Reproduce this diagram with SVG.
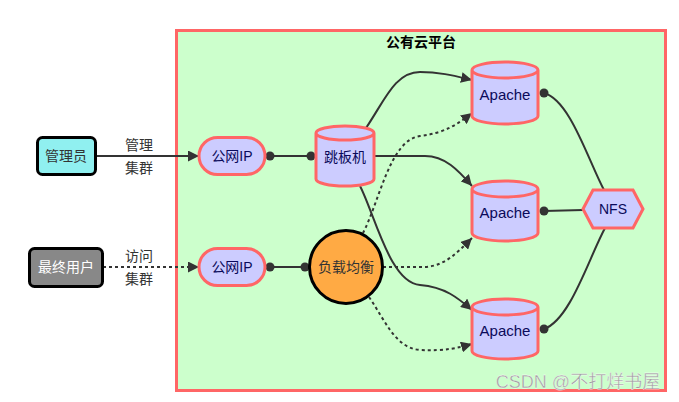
<svg xmlns="http://www.w3.org/2000/svg" width="679" height="402" viewBox="0 0 679 402">
<style>
text{font-family:"Liberation Sans","Noto Sans CJK SC",sans-serif;font-size:14px;text-anchor:middle;dominant-baseline:central}
.cyl,.pill,.hex{fill:#ccccff;stroke:#ff6666;stroke-width:3}
.nt{fill:#0a0a5a}
.e{fill:none;stroke:#333;stroke-width:2}
.d{stroke-dasharray:3 3}
.dot{fill:#333}
</style>
<defs>
<marker id="ar" viewBox="0 0 10 10" refX="10" refY="5" markerWidth="11" markerHeight="11" markerUnits="userSpaceOnUse" orient="auto">
<path d="M0,0 L10,5 L0,10 z" fill="#333"/>
</marker>
</defs>
<g id="cluster">
<rect x="176.5" y="30.5" width="489" height="360" fill="#ccffcc" stroke="#ff6666" stroke-width="3"/>
<text x="421" y="42" style="font-weight:bold">公有云平台</text>
</g>
<g id="connectors">
<path class="e" d="M96,156 L199,156" marker-end="url(#ar)"/>
<path class="e d" d="M103,267 L199,267" marker-end="url(#ar)"/>
<text x="139" y="145" fill="#333">管理</text>
<text x="139" y="168" fill="#333">集群</text>
<text x="139" y="256" fill="#333">访问</text>
<text x="139" y="279" fill="#333">集群</text>
<path class="e" d="M270,156 L311,156"/>
<circle class="dot" cx="270" cy="156" r="4.5"/>
<circle class="dot" cx="311" cy="156" r="4.5"/>
<path class="e" d="M270,267 L305,267"/>
<circle class="dot" cx="270" cy="267" r="4.5"/>
<circle class="dot" cx="305" cy="267" r="4.5"/>
<path class="e" d="M366,128 C385,100 395,72 420,72 C440,72 455,76 472,80" marker-end="url(#ar)"/>
<path class="e" d="M374,156 L425,156 C445,156 458,170 472,186" marker-end="url(#ar)"/>
<path class="e" d="M360,186 C375,215 390,283 420,285 C445,287 458,298 472,310" marker-end="url(#ar)"/>
<path class="e d" d="M363,233 C380,200 390,140 420,136 C445,133 458,124 472,113" marker-end="url(#ar)"/>
<path class="e d" d="M383,267 L425,267 C445,266 458,252 472,238" marker-end="url(#ar)"/>
<path class="e d" d="M369,297 C385,320 395,348 420,350 C445,351 458,348 472,344" marker-end="url(#ar)"/>
<path class="e" d="M544,93 C570,100 588,160 604,190"/>
<path class="e" d="M544,211 L583,210"/>
<path class="e" d="M544,329 C570,320 588,260 605,228"/>
<circle class="dot" cx="544" cy="93" r="4.5"/>
<circle class="dot" cx="544" cy="211" r="4.5"/>
<circle class="dot" cx="544" cy="329" r="4.5"/>
</g>
<g id="admin">
<rect x="37.5" y="137.5" width="58" height="37" rx="5" fill="#90f0f0" stroke="#000" stroke-width="3"/>
<text x="66" y="156" fill="#333">管理员</text>
</g>
<g id="user">
<rect x="29.5" y="248.5" width="73" height="38" rx="5" fill="#888888" stroke="#000" stroke-width="3"/>
<text x="66" y="267" fill="#fff">最终用户</text>
</g>
<g id="ip1">
<rect class="pill" x="199" y="137.5" width="66" height="37" rx="18.5"/>
<text class="nt" x="232" y="156">公网IP</text>
</g>
<g id="ip2">
<rect class="pill" x="199" y="248.5" width="66" height="37" rx="18.5"/>
<text class="nt" x="232" y="267">公网IP</text>
</g>
<g id="jump">
<path class="cyl" d="M316,133 a29,7 0 0 0 58,0 a29,7 0 0 0 -58,0 l0,46 a29,7 0 0 0 58,0 l0,-46"/>
<text class="nt" x="345" y="157">跳板机</text>
</g>
<g id="lb">
<circle cx="346" cy="267" r="36.5" fill="#ffaa44" stroke="#000" stroke-width="3"/>
<text x="346" y="267" fill="#333">负载均衡</text>
</g>
<g id="apache1">
<path class="cyl" d="M472,70 a33,8 0 0 0 66,0 a33,8 0 0 0 -66,0 l0,46 a33,8 0 0 0 66,0 l0,-46"/>
<text class="nt" x="505" y="94" style="font-size:15px">Apache</text>
</g>
<g id="apache2">
<path class="cyl" d="M472,189 a33,8 0 0 0 66,0 a33,8 0 0 0 -66,0 l0,44 a33,8 0 0 0 66,0 l0,-44"/>
<text class="nt" x="505" y="212" style="font-size:15px">Apache</text>
</g>
<g id="apache3">
<path class="cyl" d="M472,307 a33,8 0 0 0 66,0 a33,8 0 0 0 -66,0 l0,44 a33,8 0 0 0 66,0 l0,-44"/>
<text class="nt" x="505" y="330" style="font-size:15px">Apache</text>
</g>
<g id="nfs">
<polygon class="hex" points="583,209 593,190 633,190 643,209 633,228 593,228"/>
<text class="nt" x="613" y="209">NFS</text>
</g>
<text x="578" y="382" style="font-size:18px" fill="#a0a0a0" stroke="#ffffff" stroke-width="0.3">CSDN @不打烊书屋</text>
</svg>
